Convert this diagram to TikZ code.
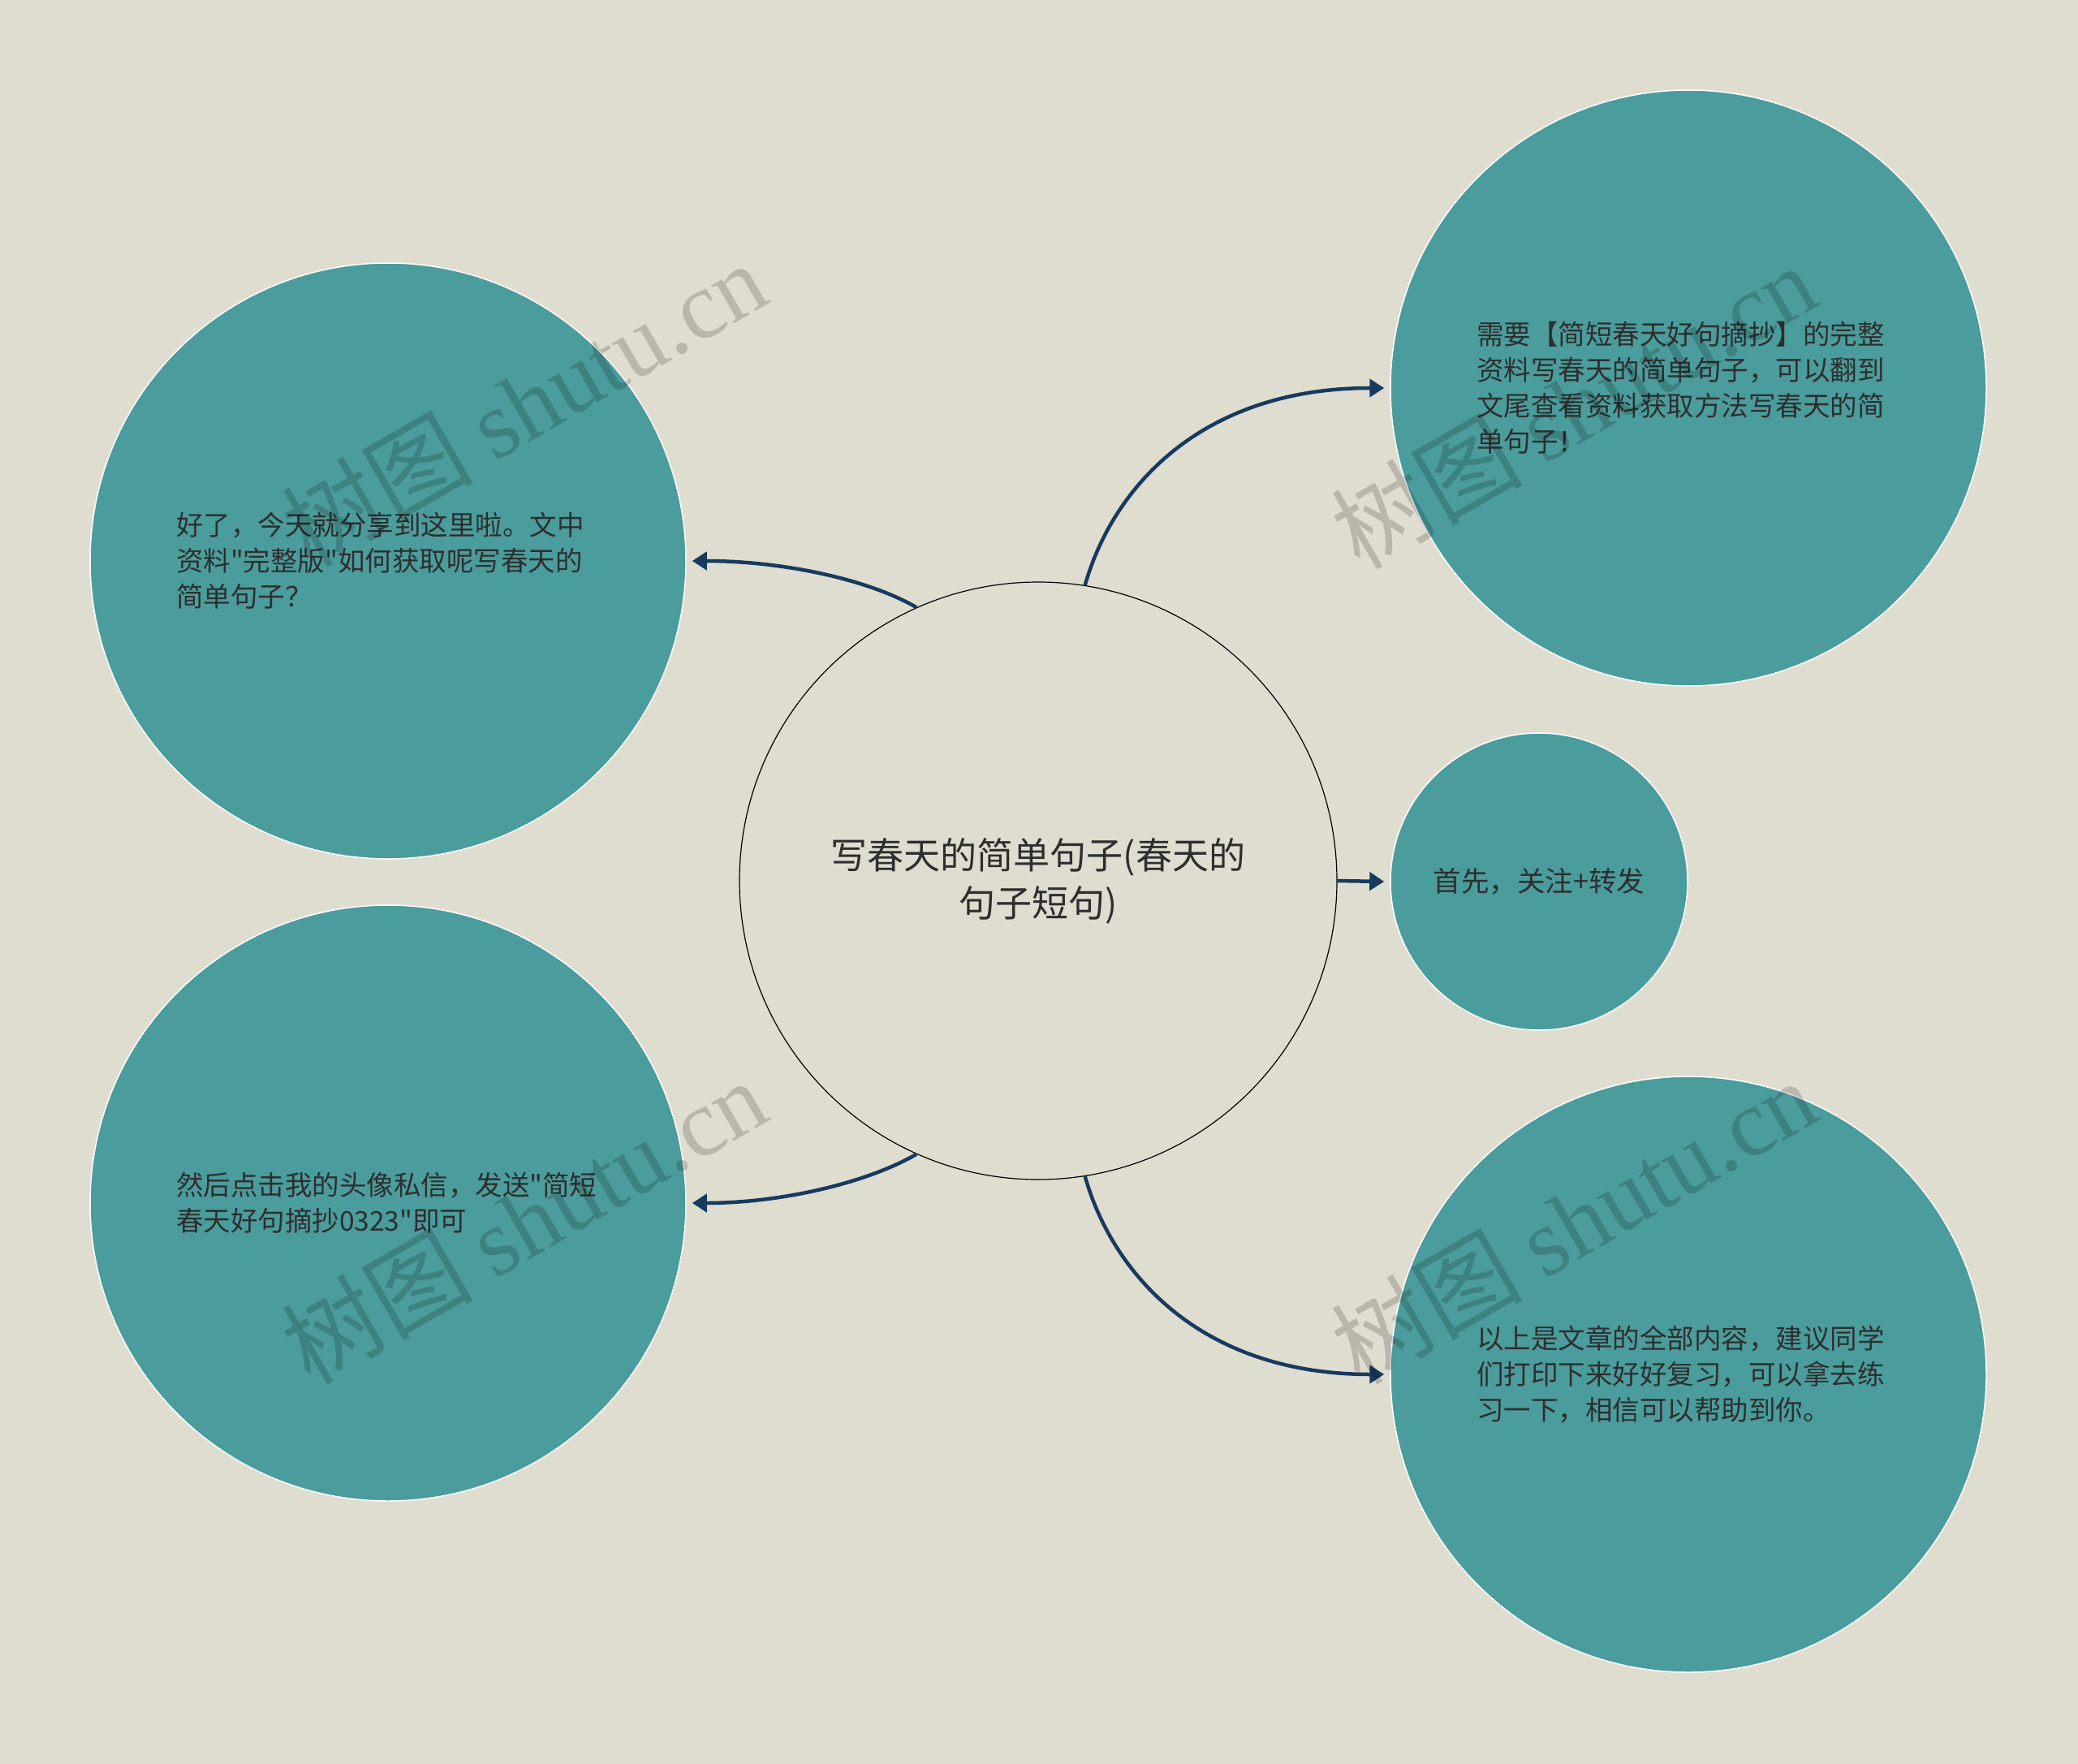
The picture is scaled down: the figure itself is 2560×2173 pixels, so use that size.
\documentclass[tikz,border=0pt]{standalone}
\usepackage{fontspec}
\newfontfamily\cjk{Noto Sans CJK SC}
\newfontfamily\wmserif{Liberation Serif}
\usetikzlibrary{arrows.meta}
\definecolor{bgc}{HTML}{DFDDD0}
\definecolor{teal1}{HTML}{4B9C9C}
\definecolor{navy}{HTML}{173A5E}
\definecolor{txt}{HTML}{2E2E2E}
\tikzset{
  leaf/.style={circle, fill=teal1, draw=white, line width=1.5pt, minimum size=734pt, inner sep=0pt,
    text width=522pt, align=left, text=txt, font=\cjk\fontsize{33.5}{44}\selectfont},
  smallleaf/.style={circle, fill=teal1, draw=white, line width=1.5pt, minimum size=366pt, inner sep=0pt,
    text=txt, font=\cjk\fontsize{34.5}{44}\selectfont},
  hub/.style={circle, fill=bgc, draw=black, line width=1.2pt, minimum size=736pt, inner sep=0pt,
    text width=560pt, align=center, text=txt, font=\cjk\fontsize{45}{59}\selectfont},
  conn/.style={draw=navy, line width=4.5pt, -{Triangle[length=18pt,width=22pt]}},
  wm/.style={rotate=30, text=black, text opacity=0.17, font=\fontsize{118}{118}\selectfont, inner sep=0pt}
}
\begin{document}
\begin{tikzpicture}[x=1pt,y=-1pt]
\fill[bgc] (0,0) rectangle (2560,2173);
\useasboundingbox (0,0) rectangle (2560,2173);

\node[hub] (c) at (1279,1085) {写春天的简单句子(春天的\\句子短句)};
\node[leaf] (tr) at (2080,478) {需要【简短春天好句摘抄】的完整\\资料写春天的简单句子，可以翻到\\文尾查看资料获取方法写春天的简\\单句子！};
\node[smallleaf] (mr) at (1896,1086) {首先，关注+转发};
\node[leaf] (br) at (2080,1693) {以上是文章的全部内容，建议同学\\们打印下来好好复习，可以拿去练\\习一下，相信可以帮助到你。};
\node[leaf] (tl) at (478,691) {好了，今天就分享到这里啦。文中\\资料"完整版"如何获取呢写春天的\\简单句子？};
\node[leaf] (bl) at (478,1482) {然后点击我的头像私信，发送"简短\\春天好句摘抄0323"即可};

\coordinate (trEnd) at ([xshift=-7pt]tr.west);
\coordinate (brEnd) at ([xshift=-7pt]br.west);
\coordinate (mrEnd) at ([xshift=-7pt]mr.west);
\coordinate (tlEnd) at ([xshift=7pt]tl.east);
\coordinate (blEnd) at ([xshift=7pt]bl.east);

\draw[conn] (c.81) .. controls +(34,-120) and +(-226,0) .. (trEnd);
\draw[conn] (c.-81) .. controls +(34,120) and +(-226,0) .. (brEnd);
\draw[conn] (c.east) -- (mrEnd);
\draw[conn] (c.114) .. controls +(-60,-35) and +(110,0) .. (tlEnd);
\draw[conn] (c.-114) .. controls +(-60,35) and +(110,0) .. (blEnd);

\node[wm] (w1) at (645,497) {\cjk 树图\ \wmserif shutu.cn};
\node[wm] (w2) at (645,1504) {\cjk 树图\ \wmserif shutu.cn};
\node[wm] (w3) at (1938,500) {\cjk 树图\ \wmserif shutu.cn};
\node[wm] (w4) at (1938,1504) {\cjk 树图\ \wmserif shutu.cn};
\end{tikzpicture}
\end{document}
